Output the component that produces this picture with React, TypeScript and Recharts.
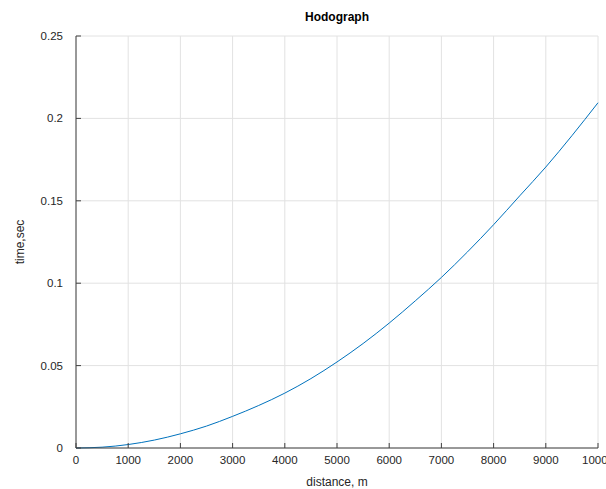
import { LineChart, Line, XAxis, YAxis, CartesianGrid } from "recharts";

const distances = [
  0, 500, 1000, 1500, 2000, 2500, 3000, 3500, 4000, 4500, 5000,
  5500, 6000, 6500, 7000, 7500, 8000, 8500, 9000, 9500, 10000,
];
const times = [
  0, 0.0005, 0.0021, 0.0048, 0.0086, 0.0133, 0.0192, 0.0258, 0.0333, 0.0421, 0.0522,
  0.0634, 0.0758, 0.0893, 0.1035, 0.119, 0.1355, 0.153, 0.1705, 0.1895, 0.2095,
];
const xTicks = [0, 1000, 2000, 3000, 4000, 5000, 6000, 7000, 8000, 9000, 10000];
const yTicks = [0, 0.05, 0.1, 0.15, 0.2, 0.25];

const data = distances.map((d, i) => ({ distance: d, time: times[i] }));

const textColor = "#262626";
const axisColor = "#404040";
const tickStyle = { fill: textColor, fontSize: 11.5 };

export default function App() {
  return (
    <div
      style={{
        position: "absolute",
        left: 0,
        top: 0,
        width: 606,
        height: 489,
        background: "#fff",
        fontFamily: "'Liberation Sans', Arial, sans-serif",
      }}
    >
      {/* title sits above the plot box, centred on it */}
      <div
        style={{
          position: "absolute",
          left: 76,
          width: 522,
          top: 10,
          textAlign: "center",
          fontSize: 12,
          fontWeight: "bold",
          color: "#000",
          lineHeight: "14px",
        }}
      >
        Hodograph
      </div>
      <LineChart
        width={606}
        height={489}
        data={data}
        margin={{ top: 36, right: 8, bottom: 0, left: 0 }}
      >
        <CartesianGrid stroke="#e2e2e2" xAxisId="bottom" yAxisId="left" />
        <XAxis
          xAxisId="bottom"
          dataKey="distance"
          type="number"
          domain={[0, 10000]}
          ticks={xTicks}
          interval={0}
          height={41}
          tickSize={-5}
          tickMargin={13}
          tick={tickStyle}
          stroke={axisColor}
          label={{
            value: "distance, m",
            position: "insideBottom",
            offset: 3,
            fill: textColor,
            fontSize: 12,
          }}
        />
        <XAxis
          xAxisId="top"
          orientation="top"
          dataKey="distance"
          type="number"
          domain={[0, 10000]}
          ticks={xTicks}
          height={0}
          tickSize={-5}
          tick={false}
          stroke={axisColor}
        />
        <YAxis
          yAxisId="left"
          type="number"
          domain={[0, 0.25]}
          ticks={yTicks}
          interval={0}
          width={76}
          tickSize={-5}
          tickMargin={18}
          tick={tickStyle}
          stroke={axisColor}
          label={{
            value: "time,sec",
            angle: -90,
            position: "insideLeft",
            offset: 20,
            fill: textColor,
            fontSize: 12,
            style: { textAnchor: "middle" },
          }}
        />
        <YAxis
          yAxisId="right"
          orientation="right"
          type="number"
          domain={[0, 0.25]}
          ticks={yTicks}
          width={0}
          tickSize={-5}
          tick={false}
          stroke={axisColor}
        />
        <Line
          xAxisId="bottom"
          yAxisId="left"
          dataKey="time"
          type="monotone"
          stroke="#0072BD"
          strokeWidth={1}
          dot={false}
          isAnimationActive={false}
        />
      </LineChart>
    </div>
  );
}
